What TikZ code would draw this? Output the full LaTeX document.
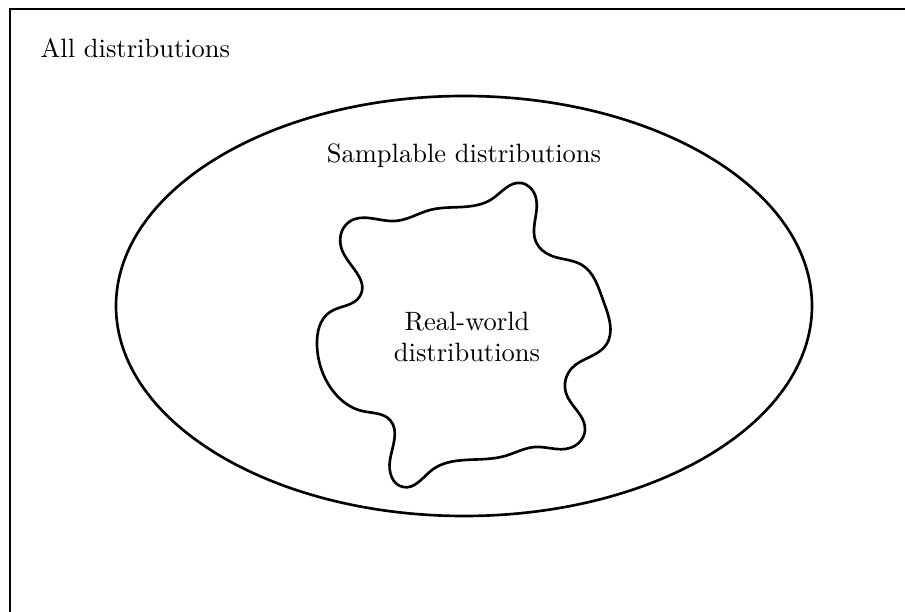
\documentclass[tikz,border=0pt]{standalone}
\usepackage{tikz}
\usetikzlibrary{
	calc,
	hobby,
	positioning,
	shapes,
}
\tikzset{set label/.style={draw=none,inner sep=0pt,font=\normalsize,}}
\tikzset{set line/.style={draw,line width=1pt,black,}}
\tikzset{
	x=0.3774pt,
	y=-0.3774pt,
}

\begin{document}
\begin{tikzpicture}
\clip (0,0) rectangle (905,612);

\draw[set line] (10,9) rectangle (930,640);
\node[set label,anchor=west](all) at(40,48) {All distributions};

\draw[set line] (464,306) ellipse [x radius=348, y radius=210];
\node[set label](samplable) at(464,156) {Samplable distributions};

\draw[set line,use Hobby shortcut,closed=true]
	(395,221) .. (430,210) .. (462,207) .. (492,199) .. (521,183)
	.. (536,198) .. (536,242) .. (552,256) .. (582,265) .. (603,300)
	.. (606,345) .. (572,368) .. (566,393) .. (585,430) .. (570,448)
	.. (535,447) .. (505,456) .. (465,460) .. (432,470) .. (403,487)
	.. (390,460) .. (390,420) .. (362,411) .. (333,391) .. (317,345)
	.. (330,312) .. (360,296) .. (342,250) .. (349,222);
\node[set label,align=center](real) at(467,337) {Real-world\\distributions};

\end{tikzpicture}
\end{document}
